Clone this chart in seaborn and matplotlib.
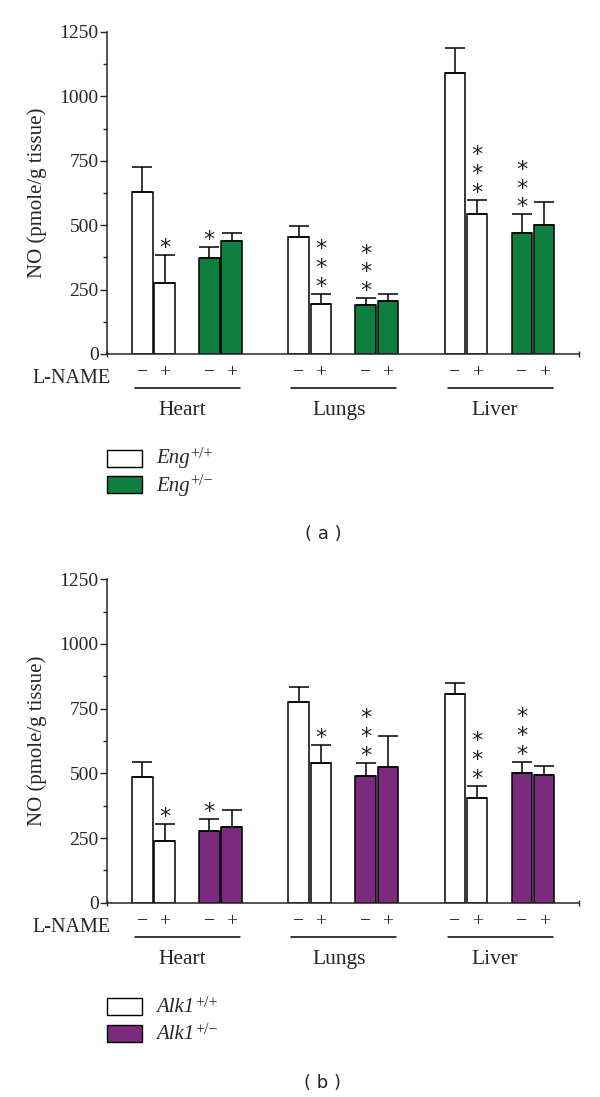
import numpy as np
import pandas as pd
import matplotlib
matplotlib.use('Agg')
import matplotlib.pyplot as plt
import matplotlib.transforms as mtransforms
from matplotlib.patches import Rectangle
import seaborn as sns

sns.set_style('ticks')
plt.rcParams['font.family'] = ['Liberation Serif', 'DejaVu Serif']

tissues = ['Heart', 'Lungs', 'Liver']
lname_labels = ['\u2212', '+']

# panel (a): Eng, values per bar = Heart-, Heart+, Lungs-, Lungs+, Liver-, Liver+
eng_wt_mean = [630, 277, 454, 193, 1091, 542]
eng_wt_err = [95, 107, 44, 39, 96, 56]
eng_het_mean = [374, 439, 190, 205, 471, 500]
eng_het_err = [43, 30, 26, 28, 71, 89]
eng_wt_stars = [0, 1, 0, 3, 0, 3]
eng_het_stars = [1, 0, 3, 0, 3, 0]

# panel (b): Alk1
alk_wt_mean = [486, 239, 777, 539, 808, 405]
alk_wt_err = [59, 65, 56, 72, 42, 47]
alk_het_mean = [276, 293, 490, 525, 500, 494]
alk_het_err = [46, 65, 49, 118, 45, 36]
alk_wt_stars = [0, 1, 0, 1, 0, 3]
alk_het_stars = [1, 0, 3, 0, 3, 0]

genotype_sup = ['+/+', '+/\u2212']

W, H = 600, 1097
fig = plt.figure(figsize=(W / 100, H / 100), dpi=100)


def px(v):
    # pixels -> points
    return v * 0.72


def draw_panel(ax_bottom, ax_top, wt_mean, wt_err, het_mean, het_err,
               wt_stars, het_stars, het_color, gene, letter):
    ax = fig.add_axes([107 / W, 1 - ax_bottom / H, 472 / W, (ax_bottom - ax_top) / H])

    rows = []
    for k, (means, errs, stars) in enumerate([(wt_mean, wt_err, wt_stars),
                                              (het_mean, het_err, het_stars)]):
        for i in range(6):
            g, t = divmod(i, 2)
            rows.append({'pos': 7 * g + 3 * k + t, 'value': means[i], 'err': errs[i],
                         'stars': stars[i], 'geno': ['wt', 'het'][k], 'lname': t})
    df = pd.DataFrame(rows).sort_values('pos')

    sns.barplot(data=df, x='pos', y='value', hue='geno', hue_order=['wt', 'het'],
                palette=['white', het_color], native_scale=True, dodge=False,
                width=0.92, saturation=1, edgecolor='black', linewidth=1.1,
                errorbar=None, legend=False, ax=ax)
    ax.errorbar(df['pos'], df['value'], yerr=[np.zeros(len(df)), df['err']],
                fmt='none', ecolor='black', elinewidth=1.1, capsize=7.4,
                capthick=1.1, zorder=3)

    # significance stars, stacked as one text
    for _, r in df.iterrows():
        n = int(r['stars'])
        if n == 0:
            continue
        ax.annotate('\n'.join(['*'] * n), xy=(r['pos'], r['value'] + r['err']),
                    xytext=(0, px(1)), textcoords='offset points',
                    ha='center', va='baseline', fontsize=16, linespacing=0.93,
                    family='DejaVu Sans', color='#222222')

    x0, x1 = -1.58, 19.56
    ax.set_xlim(x0, x1)
    ax.set_ylim(0, 1250)
    ax.set_yticks(range(0, 1251, 250))
    ax.set_yticks(range(0, 1251, 125), minor=True)
    ax.set_xticks(df['pos'])
    ax.set_xticklabels([lname_labels[t] for t in df['lname']])
    ax.set_xticks([x0, x1], minor=True)
    sns.despine(ax=ax)
    for s in ['left', 'bottom']:
        ax.spines[s].set_linewidth(1.1)
    ax.tick_params(axis='y', which='major', length=5, width=1, pad=1, labelsize=14)
    ax.tick_params(axis='y', which='minor', length=3, width=1)
    ax.tick_params(axis='x', which='major', length=0, pad=px(10), labelsize=14)
    ax.tick_params(axis='x', which='minor', length=5, width=1, direction='inout')
    ax.set_xlabel('')
    ax.set_ylabel('NO (pmole/g tissue)', fontsize=15, labelpad=9)

    base = mtransforms.blended_transform_factory(ax.transData, ax.transAxes)
    t_lname = mtransforms.offset_copy(base, fig=fig, y=-29, units='dots')
    t_line = mtransforms.offset_copy(base, fig=fig, y=-34, units='dots')
    t_name = mtransforms.offset_copy(base, fig=fig, y=-61, units='dots')
    ax.text(-1.44, 0, 'L-NAME', transform=t_lname, ha='right', va='baseline', fontsize=14.5)
    for g, name in enumerate(tissues):
        ax.plot([7 * g - 0.32, 7 * g + 4.38], [0, 0], color='black', lw=1.1,
                transform=t_line, clip_on=False)
        ax.text(7 * g + 1.8, 0, name, transform=t_name, ha='center', va='baseline', fontsize=15.5)

    # legend: italic gene name with superscript genotype
    top = ax_bottom + 95.5
    for k, fc in enumerate(['white', het_color]):
        y_top = top + 27 * k
        fig.add_artist(Rectangle((107 / W, 1 - (y_top + 17) / H), 35 / W, 17 / H,
                                 transform=fig.transFigure, facecolor=fc,
                                 edgecolor='black', lw=1))
        name = fig.text(156 / W, 1 - (y_top + 14) / H, gene, ha='left', va='baseline',
                        fontsize=15, style='italic')
        ax.annotate(genotype_sup[k], xy=(1, 0.55), xycoords=name, xytext=(0.5, 0),
                    textcoords='offset points', ha='left', va='baseline',
                    fontsize=11.5, annotation_clip=False)

    fig.text(323 / W, 1 - (ax_bottom + 180) / H, letter, ha='center', va='center',
             family='DejaVu Sans', fontsize=13)
    return ax


draw_panel(354, 32, eng_wt_mean, eng_wt_err, eng_het_mean, eng_het_err,
           eng_wt_stars, eng_het_stars, '#0f7f40', 'Eng', '( a )')
draw_panel(902.7, 579.3, alk_wt_mean, alk_wt_err, alk_het_mean, alk_het_err,
           alk_wt_stars, alk_het_stars, '#7b2a7d', 'Alk1', '( b )')

fig.savefig('out.png', dpi=100)
